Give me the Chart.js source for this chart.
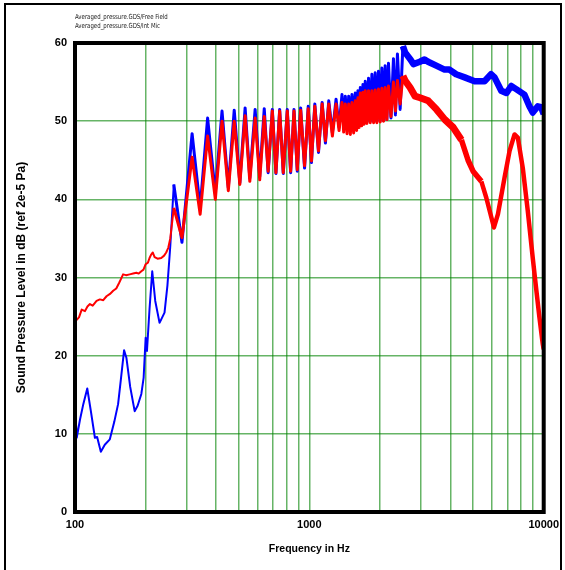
<!DOCTYPE html>
<html lang="en">
<head>
    <meta charset="UTF-8">
    <title>Sound Pressure Level</title>
    <script src="https://cdn.jsdelivr.net/npm/chart.js"></script>
    <style>
        html, body { margin: 0; padding: 0; background: #fff; overflow: hidden; }
        #wrap { position: relative; width: 565px; height: 570px; }
        #frame { position: absolute; left: 4px; top: 3px; width: 554px; height: 620px; border: 2px solid #000; pointer-events: none; }
        .legend { position: absolute; left: 75px; font: 7px "Liberation Sans Narrow", "DejaVu Sans Condensed", Arial, sans-serif; color: #222; white-space: nowrap; transform: scaleX(0.86); transform-origin: left top; }
    </style>
</head>
<body>
<div id="wrap">
    <canvas id="splChart" width="565" height="570"></canvas>
    <div id="frame"></div>
    <div class="legend" style="top:12.5px">Averaged_pressure.GDS/Free Field</div>
    <div class="legend" style="top:22px">Averaged_pressure.GDS/Int Mic</div>
</div>
<script>
// Free Field (blue), below the comb ripples
const freqFreeLow = [100, 101.7, 105, 108.5, 112.8, 117, 121.6, 124.3, 128.9, 134, 140.8, 147, 152.7, 157, 162,
    165.8, 172, 179.7, 185, 191.9, 196.3, 200.2, 202.8, 208, 213.6, 220, 229.5, 241, 248, 255];
const levelFreeLow = [13.8, 9.5, 11.8, 13.8, 15.8, 12.8, 9.5, 9.6, 7.7, 8.6, 9.3, 11.5, 13.8, 17.0, 20.7,
    19.7, 16.0, 12.9, 13.6, 15.1, 17.2, 22.3, 20.6, 26.0, 30.8, 27.0, 24.2, 25.5, 29.0, 34.0];

// Int Mic (red), below the comb ripples
const freqIntLow = [100, 101.7, 104, 106.8, 110.3, 113, 115.8, 119, 123.6, 127.7, 132, 136.3, 141, 145.5, 150,
    154.2, 157, 160.4, 165, 171.2, 177, 182.8, 187, 191.9, 196, 200.2, 204.7, 208, 211, 214.8, 218.6, 225,
    233.4, 240, 245, 250, 255];
const levelIntLow = [24.4, 24.6, 24.9, 25.9, 25.7, 26.3, 26.6, 26.4, 27.0, 27.2, 27.1, 27.6, 27.9, 28.3, 28.6,
    29.3, 29.8, 30.4, 30.3, 30.4, 30.5, 30.6, 30.5, 30.8, 31.0, 31.7, 31.9, 32.5, 32.9, 33.2, 32.6, 32.4,
    32.5, 32.8, 33.2, 33.8, 35.0];

// comb ripples: alternating peaks and troughs, shared frequencies
const freqRipple = [264, 286, 316, 342, 368, 397, 424, 451, 478, 505, 532, 557, 587, 614, 642, 667, 695, 720,
    747, 774, 805, 832, 860, 888, 918, 954, 989, 1021, 1055, 1094, 1134, 1171, 1210, 1254, 1300, 1339,
    1378, 1401, 1424, 1448, 1472, 1496, 1520, 1545, 1570, 1591, 1612, 1631, 1650, 1671, 1693, 1712, 1732,
    1760, 1789, 1819, 1849, 1880, 1910, 1941, 1973, 2006, 2039, 2072, 2106, 2141, 2176, 2230, 2285, 2330,
    2376, 2440, 2507];
const levelFreeRipple = [41.9, 34.5, 48.4, 38.9, 50.4, 40.8, 51.3, 41.5, 51.4, 42.1, 51.7, 42.7, 51.5, 42.9,
    51.6, 43.4, 51.5, 43.3, 51.5, 43.3, 51.5, 43.4, 51.5, 43.6, 51.7, 44.0, 51.9, 44.7, 52.2, 46.0, 52.4,
    47.2, 52.6, 48.5, 52.8, 49.2,
    53.4, 49.4, 53.2, 49.3, 53.2, 49.2, 53.4, 49.3, 53.6, 49.5, 53.9, 49.6, 54.3, 49.7, 54.7, 49.8, 55.1,
    49.9, 55.5, 50.0, 56.0, 50.0, 56.2, 50.0, 56.4, 50.1, 56.8, 50.1, 57.1, 50.2, 57.4, 50.4, 58.0, 50.8,
    58.6, 51.5, 59.6];
const levelIntRipple = [38.9, 35.1, 45.4, 38.1, 48.1, 40.0, 50.0, 41.1, 50.0, 41.9, 50.7, 42.3, 50.4, 42.5,
    50.6, 43.6, 51.3, 43.4, 51.3, 43.4, 51.3, 43.6, 51.3, 43.8, 51.4, 44.3, 51.6, 44.9, 51.9, 46.2, 52.2,
    47.5, 52.2, 48.1, 52.2, 48.8,
    52.4, 48.6, 52.2, 48.4, 52.2, 48.3, 52.4, 48.5, 52.6, 48.8, 53.0, 49.2, 53.6, 49.4, 53.7, 49.6, 53.9,
    49.7, 53.9, 49.8, 53.9, 49.8, 54.0, 49.8, 54.1, 49.9, 54.2, 50.0, 54.3, 50.2, 54.5, 50.6, 55.0, 51.3,
    55.2, 52.2, 55.8];

// above the ripples (centre of the noisy band)
const freqFreeHigh = [2560, 2700, 2780, 2963, 3100, 3210, 3480, 3775, 3960, 4230, 4600, 5070, 5590, 5960,
    6170, 6590, 6930, 7270, 7630, 8270, 8690, 8980, 9440, 9750, 10000];
const levelFreeHigh = [58.8, 57.9, 57.3, 57.6, 57.9, 57.6, 57.1, 56.6, 56.6, 56.0, 55.6, 55.1, 55.1, 56.0,
    55.6, 53.9, 53.6, 54.5, 54.1, 53.4, 51.9, 51.1, 51.9, 51.8, 50.9];
const freqIntHigh = [2560, 2690, 2825, 2967, 3217, 3488, 3787, 4108, 4455, 4756, 4995, 5418, 5689, 5883,
    6133, 6378, 6809, 7151, 7509, 7755, 8143, 8552, 8980, 9276, 9587, 9904, 10000];
const levelIntHigh = [55.2, 54.3, 53.2, 53.0, 52.6, 51.5, 50.2, 49.2, 47.6, 45.0, 43.6, 42.3, 40.2, 38.5,
    36.4, 38.1, 42.8, 46.2, 48.3, 47.9, 44.0, 38.5, 32.5, 28.7, 24.9, 21.5, 20.8];

// axis ticks
const xGridFreqs = [100, 200, 300, 400, 500, 600, 700, 800, 900, 1000, 2000, 3000, 4000, 5000, 6000, 7000, 8000, 9000, 10000];
const xTickLabels = [100, 1000, 10000];

const toPoints = (fs, ls) => fs.map((f, i) => ({ x: f, y: ls[i] }));
const freePoints = [].concat(toPoints(freqFreeLow, levelFreeLow), toPoints(freqRipple, levelFreeRipple), toPoints(freqFreeHigh, levelFreeHigh));
const intPoints = [].concat(toPoints(freqIntLow, levelIntLow), toPoints(freqRipple, levelIntRipple), toPoints(freqIntHigh, levelIntHigh));

const gridColor = 'rgba(0, 130, 0, 0.6)';
const tickFont = { family: 'Liberation Sans, Arial, sans-serif', size: 11, weight: 'bold' };

// line width grows where the trace turns into a dense band
function bandWidth(f, high) {
    if (f < 258) return 2;
    if (f < 2500) return 3;
    return high;
}
function redHigh(f) {
    if (f < 4400) return 7;
    if (f < 5200) return 5.5;
    return 4.5;
}

// top and right edges of the plot frame
const plotFrame = {
    id: 'plotFrame',
    afterDraw(chart) {
        const a = chart.chartArea;
        const c = chart.ctx;
        c.save();
        c.strokeStyle = '#000';
        c.lineWidth = 4;
        c.strokeRect(a.left, a.top, a.right - a.left, a.bottom - a.top);
        c.restore();
    }
};

const ctx = document.getElementById('splChart').getContext('2d');
const splChart = new Chart(ctx, {
    type: 'line',
    data: {
        datasets: [{
            label: 'Averaged_pressure.GDS/Int Mic',
            data: intPoints,
            borderColor: '#ff0000',
            order: 0,
            segment: {
                borderWidth: s => bandWidth(s.p0.parsed.x, redHigh(s.p0.parsed.x))
            }
        }, {
            label: 'Averaged_pressure.GDS/Free Field',
            data: freePoints,
            borderColor: '#0000ff',
            order: 1,
            segment: {
                borderWidth: s => bandWidth(s.p0.parsed.x, 6.5)
            }
        }]
    },
    options: {
        responsive: false,
        animation: false,
        elements: { point: { radius: 0 }, line: { tension: 0, borderJoinStyle: 'round' } },
        layout: { padding: { left: 0, top: 43, right: 20, bottom: 0 } },
        plugins: { legend: { display: false }, tooltip: { enabled: false } },
        scales: {
            x: {
                type: 'logarithmic',
                min: 100,
                max: 10000,
                afterBuildTicks: scale => { scale.ticks = xGridFreqs.map(v => ({ value: v })); },
                afterFit: scale => { scale.height = 58; },
                grid: { color: gridColor, lineWidth: 1.5, drawTicks: false },
                border: { color: '#000', width: 4 },
                ticks: {
                    autoSkip: false,
                    maxRotation: 0,
                    padding: 6,
                    color: '#000',
                    font: tickFont,
                    callback: v => xTickLabels.includes(v) ? String(v) : ''
                },
                title: {
                    display: true,
                    text: 'Frequency in Hz',
                    color: '#000',
                    font: { family: 'Liberation Sans, Arial, sans-serif', size: 10.5, weight: 'bold' },
                    padding: { top: 4, bottom: 15 }
                }
            },
            y: {
                min: 0,
                max: 60,
                afterFit: scale => { scale.width = 75; },
                grid: { color: gridColor, lineWidth: 1.5, drawTicks: false },
                border: { color: '#000', width: 4 },
                ticks: { stepSize: 10, padding: 8, color: '#000', font: tickFont },
                title: {
                    display: true,
                    text: 'Sound Pressure Level in dB (ref 2e-5 Pa)',
                    color: '#000',
                    font: { family: 'Liberation Sans, Arial, sans-serif', size: 12, weight: 'bold' },
                    padding: { top: 14, bottom: 0 }
                }
            }
        }
    },
    plugins: [plotFrame]
});
</script>
</body>
</html>
